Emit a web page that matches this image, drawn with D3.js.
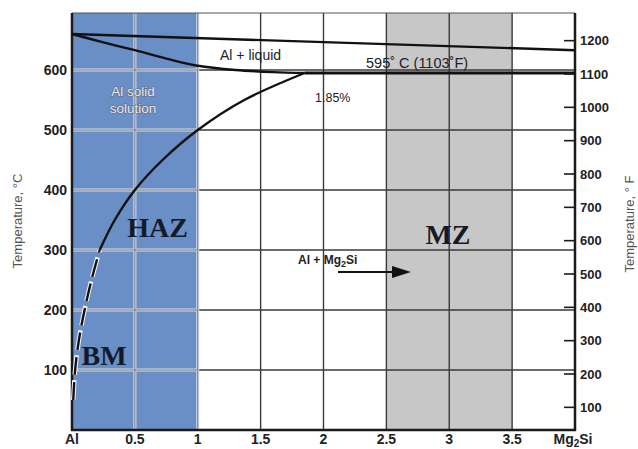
<!DOCTYPE html>
<html>
<head>
<meta charset="utf-8">
<script src="https://cdn.jsdelivr.net/npm/d3@7"></script>
<style>
  html, body { margin: 0; padding: 0; background: #fff; }
  svg { display: block; font-family: "Liberation Sans", Arial, sans-serif; }
</style>
</head>
<body>
<svg id="chart" width="638" height="449"></svg>
<script>
// Al – Mg2Si pseudo-binary phase diagram with weld zones
const compTicks = [0, 0.5, 1, 1.5, 2, 2.5, 3, 3.5, 4];
const compLabels = ["Al", "0.5", "1", "1.5", "2", "2.5", "3", "3.5", "Mg2Si"];
const celsiusTicks = [100, 200, 300, 400, 500, 600];
const fahrenheitTicks = [100, 200, 300, 400, 500, 600, 700, 800, 900, 1000, 1100, 1200];

// phase boundaries: [wt% Mg2Si, °C]
const liquidus = [[0, 660], [4, 633]];
const solidus = [[0, 660], [0.25, 646], [0.5, 633], [0.75, 619], [1.0, 607], [1.3, 600], [1.6, 596.5], [1.85, 595]];
const eutectic = [[1.85, 595], [4, 595]];
const solvusSolid = [[0.22, 300], [0.34, 350], [0.5, 400], [0.72, 450], [1.0, 500], [1.37, 550], [1.85, 595]];
const solvusDashed = [[0.01, 50], [0.025, 100], [0.055, 150], [0.1, 200], [0.155, 250], [0.22, 300]];

// weld zones
const blueZone = [0, 1];
const grayZone = [2.5, 3.5];
const zoneLabels = [
  { text: "HAZ", c: 0.68, t: 338 },
  { text: "BM", c: 0.255, t: 125 },
  { text: "MZ", c: 2.99, t: 327 }
];

const svg = d3.select("#chart");
const x = d3.scaleLinear().domain([0, 4]).range([72, 575]);
const y = d3.scaleLinear().domain([0, 695]).range([430, 13]);
const yF = d3.scaleLinear().domain([32, 695 * 1.8 + 32]).range([430, 13]);

// zone fills
svg.append("rect")
  .attr("x", x(blueZone[0])).attr("y", y(695))
  .attr("width", x(blueZone[1]) - x(blueZone[0])).attr("height", y(0) - y(695))
  .attr("fill", "#6a8ec6");
svg.append("rect")
  .attr("x", x(grayZone[0])).attr("y", y(695))
  .attr("width", x(grayZone[1]) - x(grayZone[0])).attr("height", y(0) - y(695))
  .attr("fill", "#c7c7c7");

// grid outside the blue zone
const grid = svg.append("g");
grid.selectAll(".vg").data(compTicks.slice(2, -1)).join("line")
  .attr("x1", d => x(d)).attr("x2", d => x(d))
  .attr("y1", y(695)).attr("y2", y(0))
  .attr("stroke", "#3a3a3a").attr("stroke-width", 1.4);
grid.selectAll(".hg").data(celsiusTicks).join("line")
  .attr("x1", x(1)).attr("x2", x(4))
  .attr("y1", d => y(d)).attr("y2", d => y(d))
  .attr("stroke", "#3a3a3a").attr("stroke-width", 1.4);

// grid inside the blue zone: pale lines with a dark core
const gridB = svg.append("g");
[["#d6dde8", 3], ["#5a6270", 0.8]].forEach(([col, w]) => {
  gridB.append("g").selectAll("line").data([0.5, 1]).join("line")
    .attr("x1", d => x(d)).attr("x2", d => x(d))
    .attr("y1", y(695)).attr("y2", y(0))
    .attr("stroke", col).attr("stroke-width", w);
  gridB.append("g").selectAll("line").data(celsiusTicks).join("line")
    .attr("x1", x(0)).attr("x2", x(1))
    .attr("y1", d => y(d)).attr("y2", d => y(d))
    .attr("stroke", col).attr("stroke-width", w);
});

// frame
svg.append("line").attr("x1", x(0)).attr("x2", x(4)).attr("y1", y(695)).attr("y2", y(695))
  .attr("stroke", "#555").attr("stroke-width", 1.2);
svg.append("line").attr("x1", x(0)).attr("x2", x(0)).attr("y1", y(695)).attr("y2", y(0) + 1)
  .attr("stroke", "#1a1a1a").attr("stroke-width", 2.5);
svg.append("line").attr("x1", x(4)).attr("x2", x(4)).attr("y1", y(695)).attr("y2", y(0) + 1)
  .attr("stroke", "#1a1a1a").attr("stroke-width", 2.5);
svg.append("line").attr("x1", x(0) - 1).attr("x2", x(4) + 1).attr("y1", y(0)).attr("y2", y(0))
  .attr("stroke", "#1a1a1a").attr("stroke-width", 2.5);

// phase boundary curves
const line = d3.line().x(d => x(d[0])).y(d => y(d[1]));
const smooth = d3.line().x(d => x(d[0])).y(d => y(d[1])).curve(d3.curveCatmullRom.alpha(0.5));
svg.append("path").attr("d", line(liquidus))
  .attr("fill", "none").attr("stroke", "#111").attr("stroke-width", 2.4);
svg.append("path").attr("d", smooth(solidus))
  .attr("fill", "none").attr("stroke", "#111").attr("stroke-width", 2.4);
svg.append("path").attr("d", line(eutectic))
  .attr("fill", "none").attr("stroke", "#111").attr("stroke-width", 3);
svg.append("path").attr("d", smooth(solvusSolid))
  .attr("fill", "none").attr("stroke", "#111").attr("stroke-width", 2.4);
svg.append("path").attr("d", smooth(solvusDashed))
  .attr("fill", "none").attr("stroke", "#f2f4f8").attr("stroke-width", 4.5)
  .attr("stroke-dasharray", "20 5");
svg.append("path").attr("d", smooth(solvusDashed))
  .attr("fill", "none").attr("stroke", "#111").attr("stroke-width", 2.4)
  .attr("stroke-dasharray", "18 7");

// left °C axis labels
svg.append("g").selectAll("text").data(celsiusTicks).join("text")
  .attr("x", 67).attr("y", d => y(d)).attr("dy", "0.36em")
  .attr("text-anchor", "end").attr("font-size", 14).attr("font-weight", "bold")
  .attr("fill", "#222").text(d => d);

// right °F axis: inward ticks and labels
svg.append("g").selectAll("line").data(fahrenheitTicks).join("line")
  .attr("x1", x(4) - 11).attr("x2", x(4)).attr("y1", d => yF(d)).attr("y2", d => yF(d))
  .attr("stroke", "#1a1a1a").attr("stroke-width", 1.6);
svg.append("g").selectAll("text").data(fahrenheitTicks).join("text")
  .attr("x", 580).attr("y", d => yF(d)).attr("dy", "0.36em")
  .attr("font-size", 13).attr("font-weight", "bold").attr("fill", "#222").text(d => d);

// bottom composition labels
const bottom = svg.append("g").selectAll("text").data(compTicks).join("text")
  .attr("x", d => x(d)).attr("y", 444)
  .attr("text-anchor", "middle").attr("font-size", 14).attr("font-weight", "bold")
  .attr("fill", "#222");
bottom.each(function (d, i) {
  const s = compLabels[i];
  const el = d3.select(this);
  if (s === "Mg2Si") {
    el.attr("x", x(d) - 2);
    el.append("tspan").text("Mg");
    el.append("tspan").attr("font-size", 10).attr("dy", 2.5).text("2");
    el.append("tspan").attr("dy", -2.5).text("Si");
  } else {
    el.text(s);
  }
});

// axis titles
svg.append("text")
  .attr("transform", "translate(22,221) rotate(-90)")
  .attr("text-anchor", "middle").attr("font-size", 13).attr("fill", "#555")
  .text("Temperature, °C");
svg.append("text")
  .attr("transform", "translate(634,224) rotate(-90)")
  .attr("text-anchor", "middle").attr("font-size", 13).attr("fill", "#555")
  .text("Temperature, ° F");

// phase field annotations
svg.append("text").attr("x", 220).attr("y", 60).attr("font-size", 14).attr("fill", "#222")
  .text("Al + liquid");
svg.append("text").attr("x", 366).attr("y", 68).attr("font-size", 14.5).attr("fill", "#222")
  .text("595˚ C (1103˚F)");
svg.append("text").attr("x", 315).attr("y", 102).attr("font-size", 12.5).attr("fill", "#222")
  .text("1.85%");
const solid = svg.append("g").attr("font-size", 13.5).attr("text-anchor", "middle")
  .attr("fill", "#e8ebf0").attr("stroke", "#5f6876").attr("stroke-width", 1.1)
  .attr("paint-order", "stroke");
solid.append("text").attr("x", 133).attr("y", 96).text("Al solid");
solid.append("text").attr("x", 133).attr("y", 113).text("solution");

const amg = svg.append("text").attr("x", 298).attr("y", 264)
  .attr("font-size", 12).attr("font-weight", "bold").attr("fill", "#222");
amg.append("tspan").text("Al +  Mg");
amg.append("tspan").attr("font-size", 9).attr("dy", 3).text("2");
amg.append("tspan").attr("dy", -3).text("Si");

// arrow towards the melted zone
svg.append("line").attr("x1", 338).attr("x2", 396).attr("y1", 272).attr("y2", 272)
  .attr("stroke", "#111").attr("stroke-width", 2.2);
svg.append("path").attr("d", "M392,266 L411,272 L392,278 Z").attr("fill", "#111");

// zone names
svg.append("g").selectAll("text").data(zoneLabels).join("text")
  .attr("x", d => x(d.c)).attr("y", d => y(d.t))
  .attr("text-anchor", "middle").attr("dy", "0.35em")
  .style("font-family", "'Liberation Serif', 'Times New Roman', serif")
  .attr("font-size", 28).attr("font-weight", "bold").attr("fill", "#141b28")
  .text(d => d.text);
</script>
</body>
</html>
